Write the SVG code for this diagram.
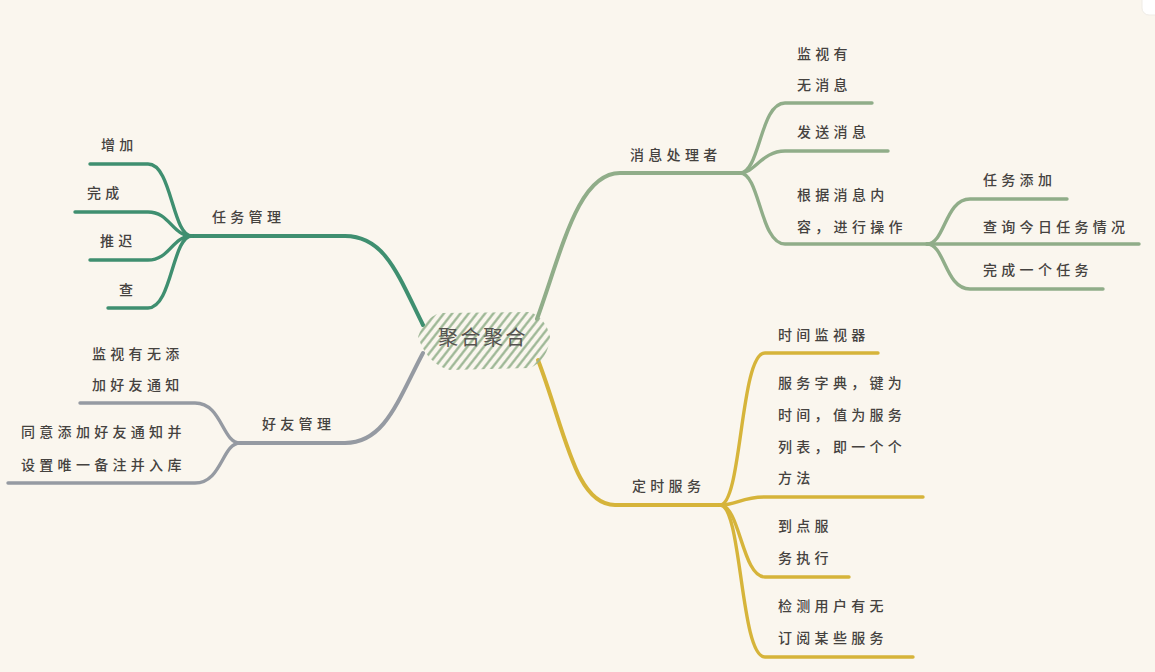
<svg xmlns="http://www.w3.org/2000/svg" width="1155" height="672" viewBox="0 0 1155 672">
<style>
text{font-family:"Noto Sans CJK SC","Noto Sans",sans-serif;font-size:14px;font-weight:500;fill:#45423f;letter-spacing:4.3px}
.c{fill:none;stroke-linecap:round;stroke-linejoin:round}
.g{stroke:#3f8f70}
.s{stroke:#90ad89}
.y{stroke:#d6b43a}
.r{stroke:#959aa2}
.m{stroke-width:4}
.b{stroke-width:3.4}
</style>
<defs>
<pattern id="hatch" width="6.5" height="6.5" patternUnits="userSpaceOnUse" patternTransform="rotate(38)">
<line x1="3.25" y1="0" x2="3.25" y2="6.5" stroke="#97b38f" stroke-width="2.2"/>
</pattern>
</defs>
<rect width="1155" height="672" fill="#faf6ee"/>
<rect x="1142" y="-10" width="30" height="25" rx="7" fill="#ffffff" stroke="#efece6" stroke-width="1"/>
<g id="connectors">
<path class="c g m" d="M423,325 C398,275 385,236 345,236 L192,236"/>
<path class="c s m" d="M537,319 C562,250 578,173 620,173 L740,173"/>
<path class="c r m" d="M423,353 C398,400 385,443 345,443 L240,443"/>
<path class="c y m" d="M538,360 C565,430 575,505 615,505 L720,505"/>
<path class="c g b" d="M192,236 C172,236 172,164 148,164 L90,164"/>
<path class="c g b" d="M192,236 C172,236 170,212 148,212 L75,212"/>
<path class="c g b" d="M192,236 C172,236 170,260 148,260 L90,260"/>
<path class="c g b" d="M192,236 C172,236 172,308 148,308 L108,308"/>
<path class="c s b" d="M740,173 C760,173 760,103 785,103 L872,103"/>
<path class="c s b" d="M740,173 C755,173 762,151 785,151 L888,151"/>
<path class="c s b" d="M740,173 C760,173 760,244 785,244 L927,244"/>
<path class="c s b" d="M927,244 C945,244 945,199 970,199 L1067,199"/>
<path class="c s b" d="M927,244 L1139,244"/>
<path class="c s b" d="M927,244 C945,244 945,289 970,289 L1103,289"/>
<path class="c r b" d="M240,443 C222,443 222,403 195,403 L80,403"/>
<path class="c r b" d="M240,443 C222,443 222,483 195,483 L8,483"/>
<path class="c y b" d="M720,505 C742,505 740,353 765,353 L878,353"/>
<path class="c y b" d="M720,505 C736,505 742,497 765,497 L923,497"/>
<path class="c y b" d="M720,505 C740,505 742,577 765,577 L849,577"/>
<path class="c y b" d="M720,505 C742,505 740,657 765,657 L913,657"/>
</g>
<g id="root">
<path d="M418,337 Q424,318 440,313 L530,312 Q546,318 550,337 Q548,360 530,368 L450,370 Q428,365 418,337 Z" fill="url(#hatch)"/>
<text x="438" y="345" style="font-size:20px;font-weight:400;letter-spacing:2.5px;fill:#555350">聚合聚合</text>
</g>
<g id="n-task"><text x="212" y="222">任务管理</text></g>
<g id="n-add"><text x="101" y="150">增加</text></g>
<g id="n-done"><text x="87" y="198">完成</text></g>
<g id="n-delay"><text x="100" y="246">推迟</text></g>
<g id="n-query"><text x="119" y="295">查</text></g>
<g id="n-friend"><text x="262" y="429">好友管理</text></g>
<g id="n-watch-friend"><text x="92" y="359">监视有无添</text><text x="92" y="390">加好友通知</text></g>
<g id="n-agree"><text x="21" y="437">同意添加好友通知并</text><text x="21" y="470">设置唯一备注并入库</text></g>
<g id="n-msg"><text x="630" y="160">消息处理者</text></g>
<g id="n-watch-msg"><text x="797" y="59">监视有</text><text x="797" y="90">无消息</text></g>
<g id="n-send"><text x="797" y="137">发送消息</text></g>
<g id="n-op"><text x="797" y="200">根据消息内</text><text x="797" y="232">容，进行操作</text></g>
<g id="n-op-add"><text x="983" y="185">任务添加</text></g>
<g id="n-op-query"><text x="983" y="232">查询今日任务情况</text></g>
<g id="n-op-done"><text x="983" y="275">完成一个任务</text></g>
<g id="n-timer"><text x="632" y="491">定时服务</text></g>
<g id="n-monitor"><text x="778" y="340">时间监视器</text></g>
<g id="n-dict"><text x="778" y="388">服务字典，键为</text><text x="778" y="420">时间，值为服务</text><text x="778" y="452">列表，即一个个</text><text x="778" y="483">方法</text></g>
<g id="n-exec"><text x="778" y="531">到点服</text><text x="778" y="563">务执行</text></g>
<g id="n-sub"><text x="778" y="611">检测用户有无</text><text x="778" y="643">订阅某些服务</text></g>
</svg>
